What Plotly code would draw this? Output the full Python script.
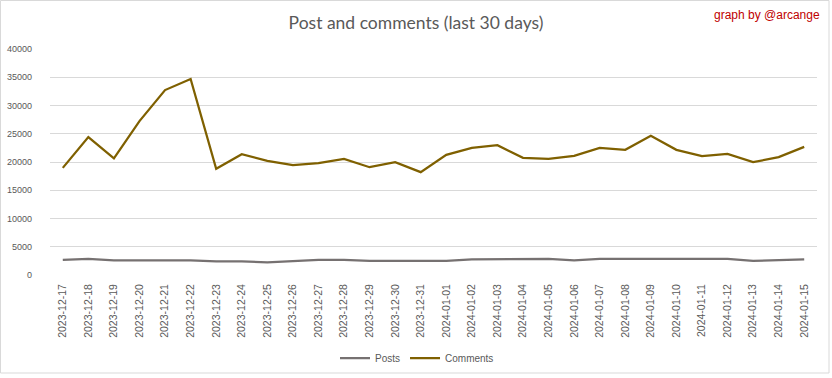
import plotly.graph_objects as go

dates = [
    "2023-12-17", "2023-12-18", "2023-12-19", "2023-12-20", "2023-12-21",
    "2023-12-22", "2023-12-23", "2023-12-24", "2023-12-25", "2023-12-26",
    "2023-12-27", "2023-12-28", "2023-12-29", "2023-12-30", "2023-12-31",
    "2024-01-01", "2024-01-02", "2024-01-03", "2024-01-04", "2024-01-05",
    "2024-01-06", "2024-01-07", "2024-01-08", "2024-01-09", "2024-01-10",
    "2024-01-11", "2024-01-12", "2024-01-13", "2024-01-14", "2024-01-15",
]
posts = [
    2660, 2840, 2600, 2600, 2600, 2600, 2430, 2430, 2250, 2480,
    2660, 2660, 2480, 2480, 2480, 2480, 2780, 2840, 2840, 2840,
    2600, 2840, 2840, 2840, 2840, 2840, 2840, 2480, 2600, 2780,
]
comments = [
    18960, 24400, 20630, 27240, 32730, 34680, 18790, 21390, 20200, 19440,
    19790, 20560, 19080, 19970, 18200, 21270, 22510, 22980, 20740, 20560,
    21090, 22510, 22150, 24630, 22150, 21030, 21440, 19970, 20860, 22680,
]
y_ticks = [0, 5000, 10000, 15000, 20000, 25000, 30000, 35000, 40000]

FONT = "Liberation Sans, Arial, sans-serif"
TITLE_FONT = "Lato, Liberation Sans, sans-serif"
TXT = "#595959"
GRID = "#D9D9D9"

W, H = 832, 378
L, R, T, B = 50, 15, 49, 103
PW = W - L - R
PH = H - T - B


def px(x):
    return (x - L) / PW


def py(y):
    return (H - B - y) / PH


fig = go.Figure()
fig.add_trace(go.Scatter(x=dates, y=posts, mode="lines", name="Posts",
                         line=dict(color="#767171", width=2.25)))
fig.add_trace(go.Scatter(x=dates, y=comments, mode="lines", name="Comments",
                         line=dict(color="#7F6000", width=2.25)))

fig.update_layout(
    width=W, height=H,
    margin=dict(l=L, r=R, t=T, b=B, autoexpand=False),
    paper_bgcolor="white", plot_bgcolor="white",
    font=dict(family=FONT, color=TXT, size=10),
    title=dict(text="Post and comments (last 30 days)", x=416 / W, xanchor="center",
               y=1 - 23 / H, yanchor="middle",
               font=dict(family=TITLE_FONT, size=17.5, color=TXT)),
    showlegend=True,
    legend=dict(orientation="h", x=px(417), xanchor="center", y=py(358), yanchor="middle",
                font=dict(family=FONT, size=10, color=TXT), bgcolor="rgba(0,0,0,0)",
                itemwidth=30),
    xaxis=dict(type="category", range=[-0.5, len(dates) - 0.5], tickangle=-90,
               showgrid=False, showline=False, zeroline=False, automargin=False,
               ticks="", ticklabelstandoff=6,
               tickfont=dict(family=FONT, size=10.5, color=TXT)),
    yaxis=dict(range=[0, 40000], tickvals=y_ticks, ticktext=[str(v) for v in y_ticks],
               showgrid=True, gridcolor=GRID, gridwidth=1, zeroline=False,
               showline=False, ticks="", ticklabelstandoff=17, automargin=False,
               tickfont=dict(family=FONT, size=9, color=TXT)),
)

fig.add_annotation(text="graph by @arcange", xref="paper", yref="paper",
                   x=px(822), y=py(15), xanchor="right", yanchor="middle",
                   showarrow=False, font=dict(family=FONT, size=12, color="#C00000"))

fig.add_shape(type="rect", xref="paper", yref="paper",
              x0=px(0.5), x1=px(829), y0=py(373), y1=py(0.5),
              line=dict(color=GRID, width=1), fillcolor="rgba(0,0,0,0)", layer="below")

fig.write_html("out.html", config={"displayModeBar": False},
               post_script="document.body.style.margin='0';document.body.style.padding='0';")
